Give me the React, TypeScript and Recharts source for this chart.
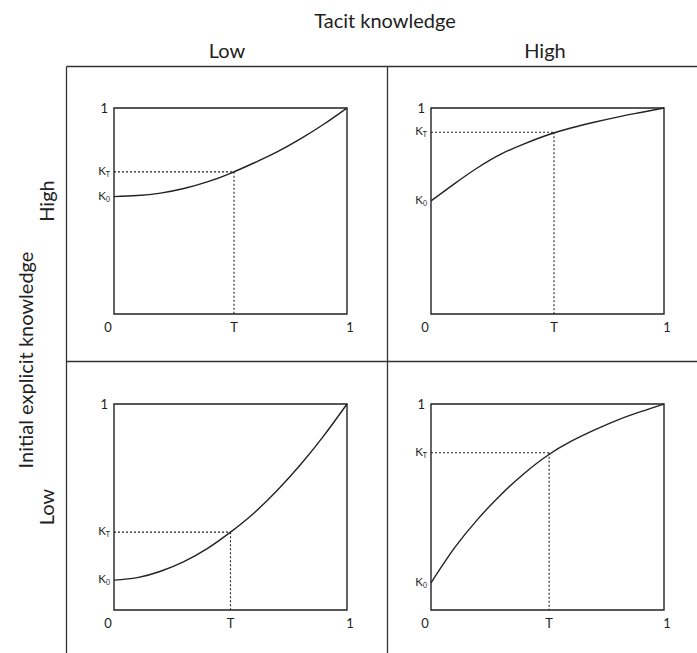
import { Line, LineChart, ReferenceArea, ReferenceLine, XAxis, YAxis } from "recharts";

// share of time elapsed (x) and knowledge level (y)
const tacit = [0, 0.1, 0.2, 0.3, 0.4, 0.5, 0.6, 0.7, 0.8, 0.9, 1];
const lowTacitHighExplicit = [0.57, 0.575, 0.587, 0.609, 0.641, 0.683, 0.733, 0.787, 0.85, 0.921, 1];
const highTacitHighExplicit = [0.549, 0.632, 0.71, 0.776, 0.826, 0.869, 0.903, 0.931, 0.956, 0.978, 1];
const lowTacitLowExplicit = [0.145, 0.157, 0.188, 0.235, 0.298, 0.378, 0.47, 0.58, 0.705, 0.845, 1];
const highTacitLowExplicit = [0.132, 0.3, 0.44, 0.56, 0.663, 0.75, 0.818, 0.873, 0.922, 0.963, 1];

const tPoints = [0.515, 0.528, 0.5, 0.507];
const kTPoints = [0.69, 0.882, 0.378, 0.763];
const xTickLabels = ["0", "T", "1"];

const FONT = "Lato, 'Open Sans', sans-serif";
const INK = "#222";

const XTick = (props: any) => {
    const { x, y, payload } = props;
    const label = xTickLabels[payload.index] ?? "";
    const dx = label === "0" ? -6 : label === "1" ? 3 : 0;
    return (
        <text x={x + dx} y={y} dy={10} textAnchor="middle" fontSize={13} fill={INK} fontFamily={FONT}>
            {label}
        </text>
    );
};

const YTick = (props: any) => {
    const { x, y, payload, kT } = props;
    if (payload.value === 1) {
        return (
            <text x={x} y={y} dy={4.5} textAnchor="end" fontSize={13} fill={INK} fontFamily={FONT}>
                1
            </text>
        );
    }
    const sub = payload.value === kT ? "T" : "0";
    return (
        <text x={x + 2} y={y} dy={3} textAnchor="end" fontSize={11.5} fill={INK} fontFamily={FONT}>
            K
            <tspan fontSize={7} dy={2}>
                {sub}
            </tspan>
        </text>
    );
};

type PanelProp = {
    values: number[];
    t: number;
    kT: number;
    left: number;
    top: number;
};

const Panel = ({ values, t, kT, left, top }: PanelProp) => {
    const data = tacit.map((x, i) => ({ x, k: values[i] }));
    const k0 = values[0];
    return (
        <div style={{ position: "absolute", left, top }}>
            <LineChart width={293} height={246} data={data} margin={{ top: 10, right: 20, bottom: 0, left: 0 }}>
                <XAxis
                    type="number"
                    dataKey="x"
                    domain={[0, 1]}
                    ticks={[0, t, 1]}
                    interval={0}
                    height={30}
                    axisLine={false}
                    tickLine={false}
                    tick={(p: any) => <XTick {...p} />}
                />
                <YAxis
                    type="number"
                    domain={[0, 1]}
                    ticks={[k0, kT, 1]}
                    interval={0}
                    width={40}
                    axisLine={false}
                    tickLine={false}
                    tickSize={0}
                    tickMargin={6}
                    tick={(p: any) => <YTick {...p} kT={kT} />}
                />
                <ReferenceArea x1={0} x2={1} y1={0} y2={1} fill="none" stroke={INK} strokeWidth={1.4} />
                <ReferenceLine
                    segment={[{ x: 0, y: kT }, { x: t, y: kT }]}
                    stroke={INK}
                    strokeWidth={1.1}
                    strokeDasharray="2 2"
                />
                <ReferenceLine
                    segment={[{ x: t, y: kT }, { x: t, y: 0 }]}
                    stroke={INK}
                    strokeWidth={1.1}
                    strokeDasharray="2 2"
                />
                <Line
                    type="natural"
                    dataKey="k"
                    stroke={INK}
                    strokeWidth={1.4}
                    dot={false}
                    isAnimationActive={false}
                />
            </LineChart>
        </div>
    );
};

export default function App() {
    return (
        <div
            style={{
                position: "fixed",
                left: 0,
                top: 0,
                width: 697,
                height: 653,
                background: "#fff",
                fontFamily: FONT,
            }}
        >
            <svg width={697} height={653} style={{ position: "absolute", left: 0, top: 0 }}>
                <g stroke="#333" strokeWidth={1.3}>
                    <line x1={66.5} y1={66.5} x2={697} y2={66.5} />
                    <line x1={66.5} y1={361.5} x2={697} y2={361.5} />
                    <line x1={66.5} y1={66.5} x2={66.5} y2={653} />
                    <line x1={387.5} y1={66.5} x2={387.5} y2={653} />
                </g>
                <g fill={INK} fontFamily={FONT} fontSize={20}>
                    <text x={385} y={28} textAnchor="middle">
                        Tacit knowledge
                    </text>
                    <text x={227} y={58} textAnchor="middle">
                        Low
                    </text>
                    <text x={545} y={58} textAnchor="middle">
                        High
                    </text>
                    <text x={33} y={360} textAnchor="middle" transform="rotate(-90 33 360)">
                        Initial explicit knowledge
                    </text>
                    <text x={54} y={201} textAnchor="middle" transform="rotate(-90 54 201)">
                        High
                    </text>
                    <text x={54} y={507} textAnchor="middle" transform="rotate(-90 54 507)">
                        Low
                    </text>
                </g>
            </svg>
            <Panel values={lowTacitHighExplicit} t={tPoints[0]} kT={kTPoints[0]} left={74} top={98} />
            <Panel values={highTacitHighExplicit} t={tPoints[1]} kT={kTPoints[1]} left={391} top={98} />
            <Panel values={lowTacitLowExplicit} t={tPoints[2]} kT={kTPoints[2]} left={74} top={394} />
            <Panel values={highTacitLowExplicit} t={tPoints[3]} kT={kTPoints[3]} left={391} top={394} />
        </div>
    );
}
